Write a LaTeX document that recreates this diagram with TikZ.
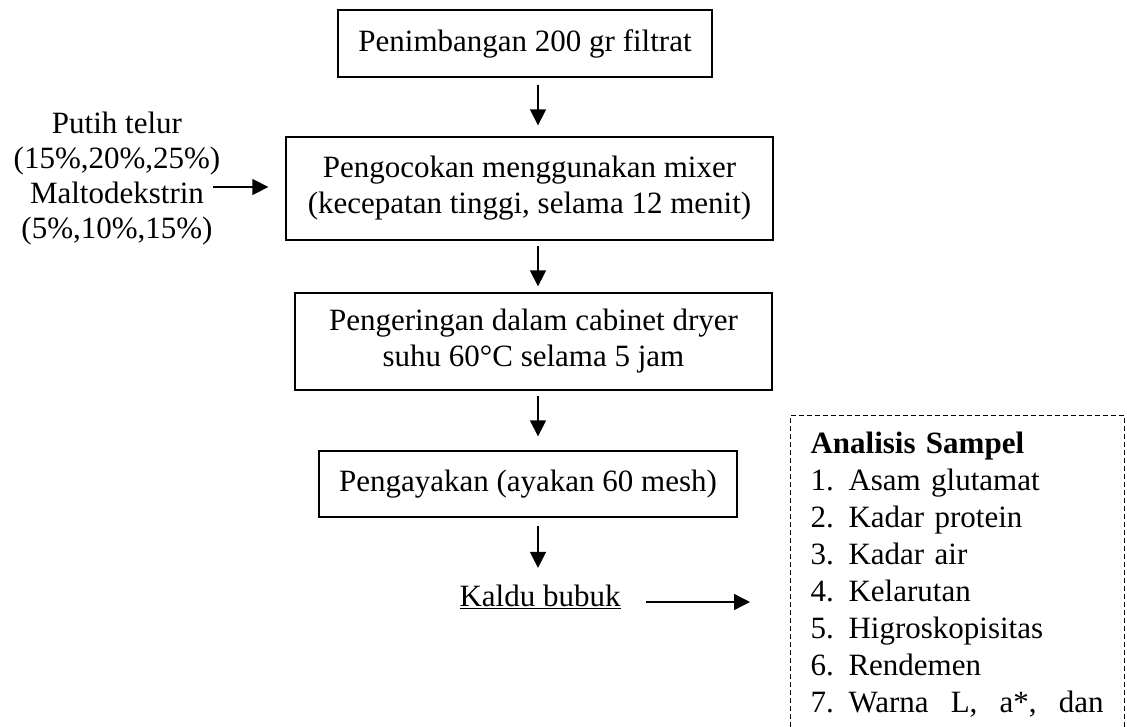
\documentclass[tikz,border=0pt]{standalone}
\usepackage{fontspec}
\setmainfont{Liberation Serif}
\usetikzlibrary{arrows.meta}

\newcommand{\analysisno}[1]{\makebox[38pt][l]{#1}}

\begin{document}
\begin{tikzpicture}[
  x=1pt, y=-1pt,
  node distance=150pt,
  every node/.style = {font=\fontsize{31pt}{36pt}\selectfont},
  block/.style = {
    draw,
    shape=rectangle,
    line width=1.3pt,
    align=center
  },
  flow/.style = {-{Triangle[length=16pt,width=16pt]}, line width=1.4pt},
  %flow/.style = {-Stealth},
]
  \useasboundingbox (0,0) rectangle (1127,727);
  \clip (0,0) rectangle (1127,727);

  \node (weigh)[
    block,
    minimum width=374pt,
    minimum height=67pt
  ] at (525,43.5) {Penimbangan 200 gr filtrat};
  \node (mix)[
    below of=weigh,
    block,
    minimum width=487pt,
    minimum height=103pt,
    xshift=4.5pt,
    yshift=5pt
  ] {Pengocokan menggunakan mixer\\(kecepatan tinggi, selama 12 menit)};
  \node (dry)[
    below of=mix,
    block,
    minimum width=477pt,
    minimum height=97pt,
    xshift=4pt,
    yshift=-3pt
  ] {Pengeringan dalam cabinet dryer\\suhu 60°C selama 5 jam};
  \node (sieve)[
    below of=dry,
    block,
    minimum width=418pt,
    minimum height=66pt,
    xshift=-5.5pt,
    yshift=7.5pt
  ] {Pengayakan (ayakan 60 mesh)};
  \node (broth)[
    below of=sieve,
    inner sep=0pt,
    xshift=12pt,
    yshift=37pt
  ] {\underline{Kaldu bubuk}};

  \node (additive)[
    align=center,
    inner sep=0pt,
    font=\fontsize{31pt}{35pt}\selectfont
  ] at (117,179) {Putih telur\\(15\%,20\%,25\%)\\Maltodekstrin\\(5\%,10\%,15\%)};

  \node (analysis)[
    draw,
    dash pattern=on 5pt off 3pt,
    line width=1.1pt,
    anchor=north west,
    text width=294pt,
    inner xsep=20pt,
    inner ysep=12pt,
    align=left,
    font=\fontsize{31pt}{37pt}\selectfont
  ] at (790,415) {\strut\textbf{Analisis Sampel}\\
    \analysisno{1.}Asam glutamat\\
    \analysisno{2.}Kadar protein\\
    \analysisno{3.}Kadar air\\
    \analysisno{4.}Kelarutan\\
    \analysisno{5.}Higroskopisitas\\
    \analysisno{6.}Rendemen\\
    \analysisno{7.}\hbox to 255pt{Warna\hfill L,\hfill a*,\hfill dan}};

  \coordinate (axis) at (538,0);
  \coordinate (feed) at (213,187);

  \draw[flow, shorten <=7pt, shorten >=11pt] (weigh.south -| axis) -- (mix.north -| axis);
  \draw[flow, shorten <=5pt, shorten >=6pt]  (mix.south -| axis)   -- (dry.north -| axis);
  \draw[flow, shorten <=5pt, shorten >=14pt] (dry.south -| axis)   -- (sieve.north -| axis);
  \draw[flow, shorten <=8pt, shorten >=17pt] (sieve.south -| axis) -- (broth.north -| axis);
  \draw[flow, shorten >=17pt] (feed) -- (feed -| mix.west);
  \draw[flow, shorten <=25pt, shorten >=40pt] ([yshift=-5pt]broth.east) -- ([yshift=-5pt]broth.east -| analysis.west);
\end{tikzpicture}
\end{document}
